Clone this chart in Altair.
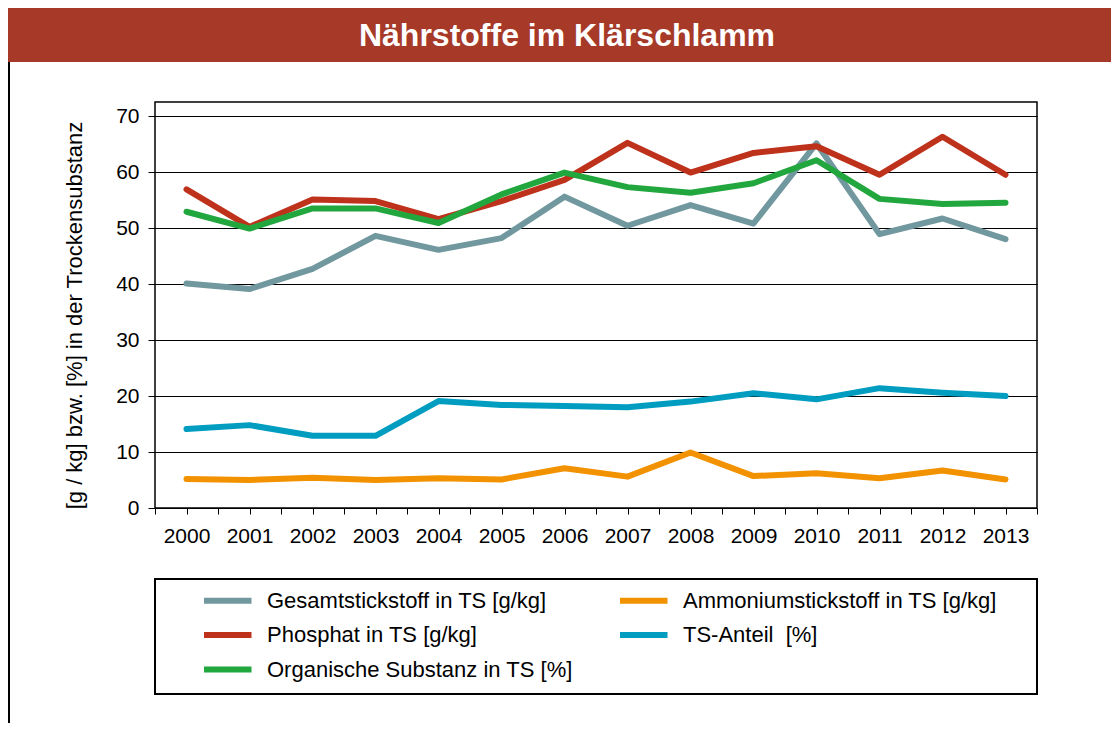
import altair as alt
import pandas as pd

# ---------------- data ----------------
years = list(range(2000, 2014))
gesamtstickstoff = [40.1, 39.1, 42.7, 48.6, 46.1, 48.2, 55.6, 50.4, 54.1, 50.8, 65.1, 48.9, 51.7, 48.0]
ammoniumstickstoff = [5.2, 5.0, 5.4, 5.0, 5.3, 5.1, 7.1, 5.6, 9.9, 5.7, 6.2, 5.3, 6.7, 5.1]
phosphat = [56.9, 50.2, 55.1, 54.8, 51.6, 54.8, 58.6, 65.2, 59.9, 63.4, 64.6, 59.5, 66.3, 59.5]
ts_anteil = [14.1, 14.8, 12.9, 12.9, 19.1, 18.4, 18.2, 18.0, 19.0, 20.5, 19.4, 21.4, 20.6, 20.0]
organische_substanz = [52.9, 49.9, 53.5, 53.5, 50.9, 56.0, 59.9, 57.3, 56.3, 58.0, 62.1, 55.2, 54.3, 54.5]

# legend is laid out column by column: first column, then second column
series_names = [
    "Gesamtstickstoff in TS [g/kg]",
    "Phosphat in TS [g/kg]",
    "Organische Substanz in TS [%]",
    "Ammoniumstickstoff in TS [g/kg]",
    "TS-Anteil\u00a0 [%]",
]
series_values = [gesamtstickstoff, phosphat, organische_substanz, ammoniumstickstoff, ts_anteil]
series_colors = ["#72989F", "#BE311B", "#22A63E", "#F39200", "#009DC1"]

y_ticks = [0, 10, 20, 30, 40, 50, 60, 70]
x_ticks = [1999.5 + 0.5 * i for i in range(29)]

title_text = "Nährstoffe im Klärschlamm"
y_title = "[g / kg] bzw. [%] in der Trockensubstanz"

rows = []
for name, vals in zip(series_names, series_values):
    for yr, v in zip(years, vals):
        rows.append({"Jahr": yr, "Wert": v, "Reihe": name})
df = pd.DataFrame(rows)

FONT = "Liberation Sans, Arial, sans-serif"

W, H = 882, 406

lines = alt.Chart(df).mark_line(strokeWidth=6, strokeCap="round", strokeJoin="round").encode(
    x=alt.X(
        "Jahr:Q",
        scale=alt.Scale(domain=[1999.5, 2013.5], nice=False, zero=False),
        axis=alt.Axis(
            values=x_ticks,
            labelExpr="datum.value % 1 == 0 ? format(datum.value, 'd') : ''",
            labelOverlap=False,
            labelFlush=False,
            grid=False,
            tickSize=6,
            tickColor="black",
            domain=False,
            labelFont=FONT,
            labelFontSize=21,
            labelColor="black",
            labelPadding=11,
            title=None,
        ),
    ),
    y=alt.Y(
        "Wert:Q",
        scale=alt.Scale(domain=[0, 72.5], nice=False),
        axis=alt.Axis(
            values=y_ticks,
            grid=True,
            gridColor="black",
            gridWidth=1,
            tickSize=7,
            tickColor="black",
            domain=False,
            labelFont=FONT,
            labelFontSize=21,
            labelColor="black",
            labelPadding=9,
            title=y_title,
            titleFont=FONT,
            titleFontSize=22,
            titleFontWeight="normal",
            titleColor="black",
            titleX=-69,
            titleY=213,
            titleBaseline="bottom",
        ),
    ),
    color=alt.Color(
        "Reihe:N",
        sort=series_names,
        scale=alt.Scale(domain=series_names, range=series_colors),
        legend=alt.Legend(
            orient="none",
            legendX=46,
            legendY=486,
            columns=2,
            columnPadding=35,
            gridAlign="each",
            rowPadding=9.5,
            symbolType="M-1,0H4",
            symbolSize=361,
            symbolStrokeWidth=6,
            labelFont=FONT,
            labelFontSize=22,
            labelColor="black",
            labelOffset=41,
            labelLimit=500,
            padding=0,
            title=None,
        ),
    ),
)

one = pd.DataFrame({"k": [0]})

banner = alt.Chart(one).mark_rect(color="#A63927").encode(
    x=alt.value(-147), x2=alt.value(964), y=alt.value(-95), y2=alt.value(-40)
)
title = alt.Chart(one).mark_text(
    text=title_text, font=FONT, fontWeight="bold", fontSize=32,
    color="white", align="center", baseline="middle"
).encode(x=alt.value(412), y=alt.value(-66))

left_frame = alt.Chart(one).mark_rule(color="black", strokeWidth=2).encode(
    x=alt.value(-146), y=alt.value(-40), y2=alt.value(621)
)

legend_box = alt.Chart(one).mark_rect(fill="white", stroke="black", strokeWidth=2).encode(
    x=alt.value(0), x2=alt.value(882), y=alt.value(477), y2=alt.value(592)
)

chart = alt.layer(banner, title, left_frame, legend_box, lines).properties(
    width=W,
    height=H,
    background="white",
    autosize=alt.AutoSizeParams(type="none"),
    padding={"left": 147, "top": 94, "right": 74, "bottom": 215},
).configure_view(stroke="black", strokeWidth=1.5)

chart.save("out.html", embed_options={"renderer": "svg", "actions": False})
